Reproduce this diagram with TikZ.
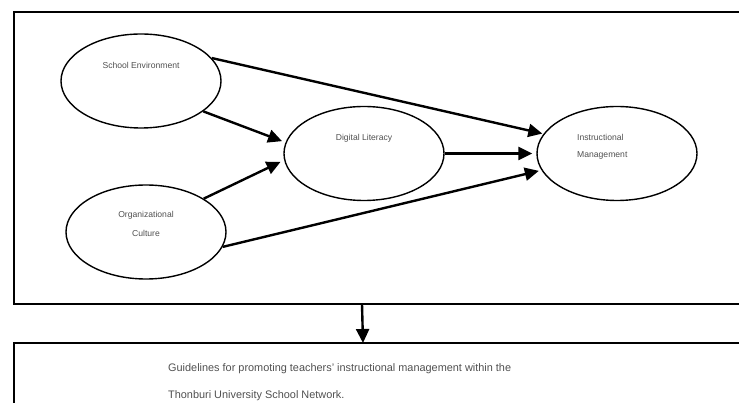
\documentclass[tikz,border=0pt]{standalone}
\usepackage{fontspec}
\setmainfont{Liberation Sans}
\usetikzlibrary{shapes.geometric,arrows.meta}
\definecolor{txt}{HTML}{505050}
\begin{document}
\begin{tikzpicture}[x=1pt,y=-1pt,
  ell/.style={draw=black,line width=1.4pt,ellipse,minimum width=160pt,minimum height=94pt,inner sep=0pt},
  lbl/.style={text=txt,font=\fontsize{8.6}{10}\selectfont,inner sep=0pt},
  arr/.style={draw=black,line width=2.4pt,-{Triangle[length=14pt,width=13pt]}},
  frame/.style={draw=black,line width=1.5pt},
  guide/.style={text=txt,font=\fontsize{10.9}{13}\selectfont,anchor=base west,inner sep=0pt}]
\useasboundingbox (0,0) rectangle (739,403);
\clip (0,0) rectangle (739,403);
\draw[frame] (14,12) rectangle (760,304);
\draw[frame] (14,343) rectangle (760,420);
\node[ell] (se) at (141,81) {};
\node[ell] (dl) at (364,153.5) {};
\node[ell] (im) at (617,153.5) {};
\node[ell] (oc) at (146,232) {};
\node[lbl] at (141,65) {School Environment};
\node[lbl] at (364,138) {Digital Literacy};
\node[lbl,anchor=west] at (577,137) {Instructional};
\node[lbl,anchor=west] at (577,155) {Management};
\node[lbl] at (146,215) {Organizational};
\node[lbl] at (146,233) {Culture};
\draw[arr] (se.18) -- ([shift={(-3pt,-2pt)}]im.163);
\draw[arr] (se.-26) -- ([xshift=-4pt]dl.171);
\draw[arr] (oc.30) -- ([xshift=-4pt]dl.186);
\draw[arr] (dl.east) -- ([xshift=-4pt]im.west);
\draw[arr] (oc.-11) -- ([xshift=-3pt]im.193);
\coordinate (t1) at (362,304);
\coordinate (t2) at (363,343);
\draw[arr] (t1) -- (t2);
\node[guide] at (168,371) {Guidelines for promoting teachers' instructional management within the};
\node[guide] at (168,398) {Thonburi University School Network.};
\end{tikzpicture}
\end{document}
